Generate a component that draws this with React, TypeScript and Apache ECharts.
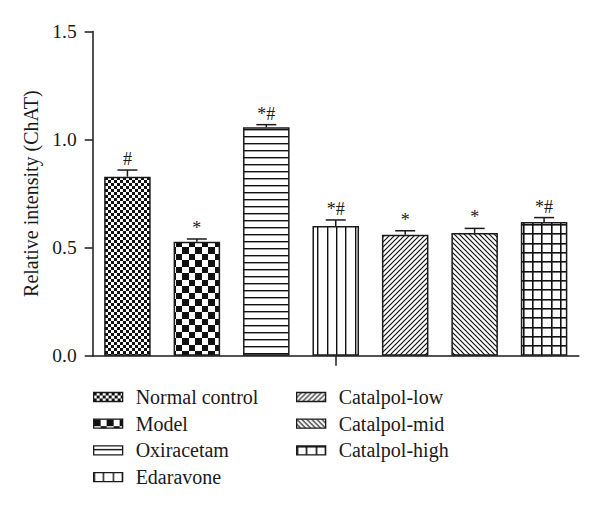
import React, { useEffect, useRef } from "react";
import * as echarts from "echarts";

const categories = [
  "Normal control",
  "Model",
  "Oxiracetam",
  "Edaravone",
  "Catalpol-low",
  "Catalpol-mid",
  "Catalpol-high",
];
const means = [0.828, 0.527, 1.057, 0.6, 0.56, 0.568, 0.619];
const upper = [0.859, 0.54, 1.069, 0.628, 0.578, 0.589, 0.639];
const marks = ["#", "*", "*#", "*#", "*", "*", "*#"];
const patternKinds = ["fineChecker", "checker", "hlines", "vlines", "diagUp", "diagDown", "grid"];
const yTickMin = 0;
const yTickMax = 1.5;
const yTickStep = 0.5;

const FONT = "'Liberation Serif', 'DejaVu Serif', serif";
const INK = "#1a1a1a";

function makePattern(kind: string) {
  const c = document.createElement("canvas");
  let w = 6;
  let h = 6;
  const setSize = (a: number, b: number) => {
    w = a;
    h = b;
    c.width = a;
    c.height = b;
  };
  let ctx: CanvasRenderingContext2D;
  if (kind === "fineChecker") {
    setSize(6, 6);
    ctx = c.getContext("2d")!;
    ctx.fillStyle = "#fff";
    ctx.fillRect(0, 0, 6, 6);
    ctx.fillStyle = "#111";
    ctx.fillRect(0, 0, 3, 3);
    ctx.fillRect(3, 3, 3, 3);
  } else if (kind === "checker") {
    setSize(13, 13);
    ctx = c.getContext("2d")!;
    ctx.fillStyle = "#fff";
    ctx.fillRect(0, 0, 13, 13);
    ctx.fillStyle = "#111";
    ctx.fillRect(0, 0, 7, 7);
    ctx.fillRect(7, 7, 6, 6);
  } else if (kind === "hlines") {
    setSize(8, 7);
    ctx = c.getContext("2d")!;
    ctx.fillStyle = "#fff";
    ctx.fillRect(0, 0, 8, 7);
    ctx.fillStyle = "#111";
    ctx.fillRect(0, 3, 8, 1.4);
  } else if (kind === "vlines") {
    setSize(28, 8);
    ctx = c.getContext("2d")!;
    ctx.fillStyle = "#fff";
    ctx.fillRect(0, 0, 28, 8);
    ctx.fillStyle = "#111";
    [0, 9, 19].forEach((x) => ctx.fillRect(x, 0, 1.4, 8));
  } else if (kind === "grid") {
    setSize(28, 28);
    ctx = c.getContext("2d")!;
    ctx.fillStyle = "#fff";
    ctx.fillRect(0, 0, 28, 28);
    ctx.fillStyle = "#111";
    [0, 9, 19].forEach((x) => {
      ctx.fillRect(x, 0, 1.6, 28);
      ctx.fillRect(0, x, 28, 1.6);
    });
  } else {
    setSize(5, 5);
    ctx = c.getContext("2d")!;
    ctx.fillStyle = "#fff";
    ctx.fillRect(0, 0, 5, 5);
    ctx.strokeStyle = "#111";
    ctx.lineWidth = 1.2;
    ctx.beginPath();
    if (kind === "diagUp") {
      for (let k = -1; k <= 1; k++) {
        ctx.moveTo(-1 + k * 5, 6);
        ctx.lineTo(6 + k * 5, -1);
      }
    } else {
      for (let k = -1; k <= 1; k++) {
        ctx.moveTo(-1 + k * 5, -1);
        ctx.lineTo(6 + k * 5, 6);
      }
    }
    ctx.stroke();
  }
  return { image: c, repeat: "repeat", imageWidth: w, imageHeight: h } as any;
}

export default function App() {
  const ref = useRef<HTMLDivElement>(null);
  useEffect(() => {
    if (!ref.current) return;
    const chart = echarts.init(ref.current, undefined, { renderer: "svg" });

    const barSeries = categories.map((name, i) => ({
      name,
      type: "bar",
      stack: "all",
      barWidth: "67%",
      data: categories.map((_, j) => (j === i ? means[i] : "-")),
      itemStyle: {
        color: makePattern(patternKinds[i]),
        borderColor: INK,
        borderWidth: 1.5,
      },
      silent: true,
      z: 2,
    }));

    const errSeries = {
      type: "custom",
      name: "err",
      z: 5,
      silent: true,
      data: means.map((m, i) => [i, m, upper[i]]),
      renderItem: (params: any, api: any) => {
        const idx = api.value(0);
        const base = api.coord([idx, api.value(1)]);
        const top = api.coord([idx, api.value(2)]);
        const half = 10;
        const st = { stroke: INK, lineWidth: 1.5 };
        return {
          type: "group",
          children: [
            { type: "line", shape: { x1: base[0], y1: base[1], x2: top[0], y2: top[1] }, style: st },
            { type: "line", shape: { x1: top[0] - half, y1: top[1], x2: top[0] + half, y2: top[1] }, style: st },
            {
              type: "text",
              x: top[0],
              y: top[1] - 2,
              style: {
                text: marks[params.dataIndex],
                fontFamily: FONT,
                fontSize: 18,
                fill: INK,
                align: "center",
                verticalAlign: "bottom",
              },
            },
          ],
        };
      },
    };

    const legendBase = {
      orient: "vertical",
      top: 387,
      padding: 0,
      itemWidth: 29,
      itemHeight: 9,
      itemGap: 6.7,
      icon: "rect",
      selectedMode: false,
      itemStyle: { borderColor: INK, borderWidth: 1.3 },
      textStyle: {
        fontFamily: FONT,
        fontSize: 20,
        color: INK,
        lineHeight: 20,
        padding: [0, 0, 0, 8],
      },
    };

    chart.setOption({
      animation: false,
      backgroundColor: "#fff",
      grid: { left: 92.7, right: 21.2, top: 31.5, bottom: 155.3 },
      legend: [
        { ...legendBase, left: 93, data: categories.slice(0, 4) },
        { ...legendBase, left: 296, data: categories.slice(4) },
      ],
      xAxis: {
        type: "category",
        data: categories,
        axisLine: { lineStyle: { color: INK, width: 1.5 } },
        axisTick: {
          show: true,
          alignWithLabel: true,
          length: 10,
          interval: (index: number) => index === 3,
          lineStyle: { color: INK, width: 1.5 },
        },
        axisLabel: { show: false },
      },
      yAxis: {
        type: "value",
        min: yTickMin,
        max: yTickMax,
        interval: yTickStep,
        name: "Relative intensity (ChAT)",
        nameLocation: "middle",
        nameGap: 51,
        nameTextStyle: { fontFamily: FONT, fontSize: 20, color: INK },
        axisLine: { show: true, lineStyle: { color: INK, width: 1.5 } },
        axisTick: { show: true, length: 8, lineStyle: { color: INK, width: 1.5 } },
        splitLine: { show: false },
        axisLabel: {
          fontFamily: FONT,
          fontSize: 19.5,
          color: INK,
          margin: 16,
          formatter: (v: number) => v.toFixed(1),
        },
      },
      series: [...barSeries, errSeries],
    } as any);
    return () => chart.dispose();
  }, []);
  return (
    <div
      ref={ref}
      style={{ position: "absolute", left: 0, top: 0, width: 600, height: 511 }}
    />
  );
}
